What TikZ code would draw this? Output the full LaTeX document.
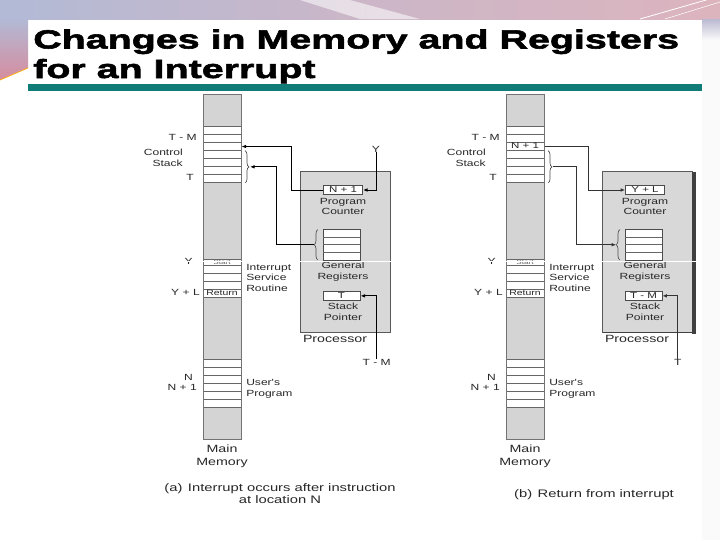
\documentclass[tikz,border=0pt]{standalone}
\usepackage{fontspec}
\setmainfont{Liberation Sans}
\newfontfamily\dfont{Liberation Sans}[FakeStretch=1.35]
\newfontfamily\tfont{Liberation Sans}[FakeStretch=1.5, BoldFeatures={FakeBold=2.2}]
\usetikzlibrary{arrows.meta,decorations.pathreplacing}
\definecolor{bgblue}{RGB}{178,186,214}
\definecolor{bgpink}{RGB}{220,180,190}
\definecolor{bgred}{RGB}{214,140,158}
\definecolor{tealbar}{RGB}{16,124,120}
\definecolor{memgray}{RGB}{212,212,212}
\definecolor{procgray}{RGB}{216,216,216}
\definecolor{txt}{RGB}{40,40,40}
\tikzset{
  lab/.style={font=\dfont\fontsize{6.7}{8}\selectfont, inner sep=0pt, text=txt},
  biglab/.style={font=\dfont\fontsize{7.9}{9.5}\selectfont, inner sep=0pt, text=txt},
  caplab/.style={font=\dfont\fontsize{8.2}{9}\selectfont, inner sep=0pt, text=txt},
  rowline/.style={draw=black!60, line width=0.4pt},
  cell/.style={draw=black!70, fill=white, line width=0.5pt, inner sep=0pt,
    font=\dfont\fontsize{6.4}{7}\selectfont, text=txt},
  bracestyle/.style={draw=black!70, line width=0.5pt, decorate, decoration={brace, amplitude=3pt}},
  connA/.style={draw=black, line width=0.75pt, -{Latex[length=3.5pt,width=2.8pt]}},
  connB/.style={draw=black!80, line width=0.55pt, -{Latex[length=3.2pt,width=2.6pt]}},
}
\newcommand\memcol[2]{%
  \path[fill=memgray] (203,94) rectangle (241,439);
  \path[fill=white] (203,126) rectangle (241,182);
  \foreach \yy in {126,134,...,182} \draw[rowline] (203,\yy) -- (241,\yy);
  \path[fill=white] (203,259) rectangle (241,297);
  \foreach \yy in {259,265,273,281.5,289.5,297} \draw[rowline] (203,\yy) -- (241,\yy);
  \path[fill=white] (203,359) rectangle (241,407);
  \foreach \yy in {359,367,...,407} \draw[rowline] (203,\yy) -- (241,\yy);
  \draw[draw=black!55, line width=0.6pt] (203,94) rectangle (241,439);
  \node[inner sep=0pt, minimum width=28pt, minimum height=5.6pt, font=\dfont\fontsize{6.4}{7}\selectfont, text=txt] (sr#1) at (222,146) {#2};
  \node[inner sep=0pt, font=\dfont\fontsize{4.6}{5}\selectfont, text=black!60] (st#1) at (222,262) {Start};
  \node[inner sep=0pt, font=\dfont\fontsize{5.8}{6}\selectfont, text=txt] (rt#1) at (222,293.3) {Return};
  \node[lab, anchor=east] (ltm#1) at (197,137.5) {T - M};
  \node[lab, anchor=east, align=right] (lcs#1) at (183,158) {Control\\Stack};
  \node[lab, anchor=east] (lt#1) at (194,177) {T};
  \node[lab, anchor=east] (ly#1) at (193,261.5) {Y};
  \node[lab, anchor=east] (lyl#1) at (200,292.7) {Y + L};
  \node[lab, anchor=east] (ln#1) at (193,377.5) {N};
  \node[lab, anchor=east] (ln1#1) at (197,387) {N + 1};
  \node[lab, anchor=west, align=left] (lisr#1) at (246,277.8) {Interrupt\\Service\\Routine};
  \node[lab, anchor=west, align=left] (lup#1) at (246,388.7) {User's\\Program};
  \node[biglab, align=center] (lmm#1) at (222,456.5) {Main\\Memory};
  \draw[bracestyle] (245,150.7) -- (245,183);
  \coordinate (sb#1) at (250,166.8);
  \coordinate (ms#1) at (241.5,146.5);
}
\newcommand\proc[3]{%
  \path[draw=black!65, fill=procgray, line width=0.5pt] (300.7,171.7) rectangle (390.7,332.7);
  \node[cell, minimum width=29.5pt, minimum height=6.3pt] (pc#1) at (343,190) {#2};
  \node[lab, align=center] (pcl#1) at (343,206.5) {Program\\Counter};
  \node[draw=black!70, fill=white, line width=0.5pt, inner sep=0pt, minimum width=27.75pt, minimum height=23pt] (rg#1) at (341.5,244.65) {};
  \foreach \yy in {237,244.7,252.4} \draw[rowline] (323,\yy) -- (360,\yy);
  \draw[bracestyle] (318,260) -- (318,229.5);
  \coordinate (rb#1) at (314,244.75);
  \node[lab, align=center] (grl#1) at (343,271.5) {General\\Registers};
  \node[cell, minimum width=28pt, minimum height=6.3pt] (sp#1) at (341.5,295.85) {#3};
  \node[lab, align=center] (spl#1) at (343,311.7) {Stack\\Pointer};
  \node[biglab] (prl#1) at (335,339) {Processor};
}
\begin{document}
\begin{tikzpicture}[x=0.75pt,y=-0.75pt]
\useasboundingbox (0,0) rectangle (720,540);
% background
\fill[white] (0,0) rectangle (720,540);
\begin{scope}
\clip (0,0) rectangle (720,540);
\shade[left color=bgblue, right color=bgpink, middle color=bgblue!40!bgpink] (0,0) rectangle (720,19);
\fill[white, opacity=0.55] (300,0) -- (350,0) -- (420,19) -- (360,19) -- cycle;
\shade[top color=bgblue, bottom color=bgred] (0,19) -- (28,19) -- (28,68) -- (0,80) -- cycle;
\draw[orange!60!yellow, line width=0.5pt] (0,80) -- (28,68);
\fill[black!2] (702,19) rectangle (720,540);
\shade[top color=bgblue!80!bgpink, bottom color=black!2] (702,19) rectangle (720,40);
\draw[white, line width=0.6pt] (640,19) -- (720,-4);
\draw[white, line width=0.4pt] (665,19) -- (720,2);
\end{scope}
% title
\node[anchor=base west, inner sep=0pt, font=\tfont\bfseries\fontsize{19.7}{24}\selectfont] (t1) at (33,48.5) {Changes in Memory and Registers};
\node[anchor=base west, inner sep=0pt, font=\tfont\bfseries\fontsize{19.7}{24}\selectfont] (t2) at (33,78) {for an Interrupt};
\fill[tealbar] (28,84) rectangle (702,90.5);
% (a)
\memcol{A}{}
\proc{A}{N + 1}{T}
\node[lab] (yA) at (376,149) {Y};
\draw[connA] (yA.south) |- (pcA.east);
\node[lab] (tmA) at (376.7,362.5) {T - M};
\draw[connA] (tmA.north) |- (spA.east);
\draw[connA] (pcA.west) -- ++(-32,0) |- (msA);
\draw[connA] (rbA) -- ++(-37.3,0) |- (sbA);
\node[caplab, align=center] (capA) at (280,494) {(a)\enspace Interrupt occurs after instruction\\at location N};
% (b)
\begin{scope}[shift={(303,0)}]
\memcol{B}{N + 1}
\end{scope}
\begin{scope}[shift={(302,0)}]
\proc{B}{Y + L}{T - M}
\end{scope}
\fill[black!75] (692.2,171.7) rectangle (696,333.5);
\draw[black!75, line width=1pt] (602.7,332.8) -- (696,332.8);
\draw[connB] (msB) -- ++(44,0) |- (pcB.west);
\draw[connB] (sbB) -- ++(23,0) |- (rbB);
\node[lab] (tB) at (677.7,362) {T};
\draw[connB] (tB.north) |- (spB.east);
\node[caplab] (capB) at (594,495) {(b)\enspace Return from interrupt};
% scan seam
\draw[white, line width=0.6pt] (185,261) -- (702,261);
\end{tikzpicture}
\end{document}
